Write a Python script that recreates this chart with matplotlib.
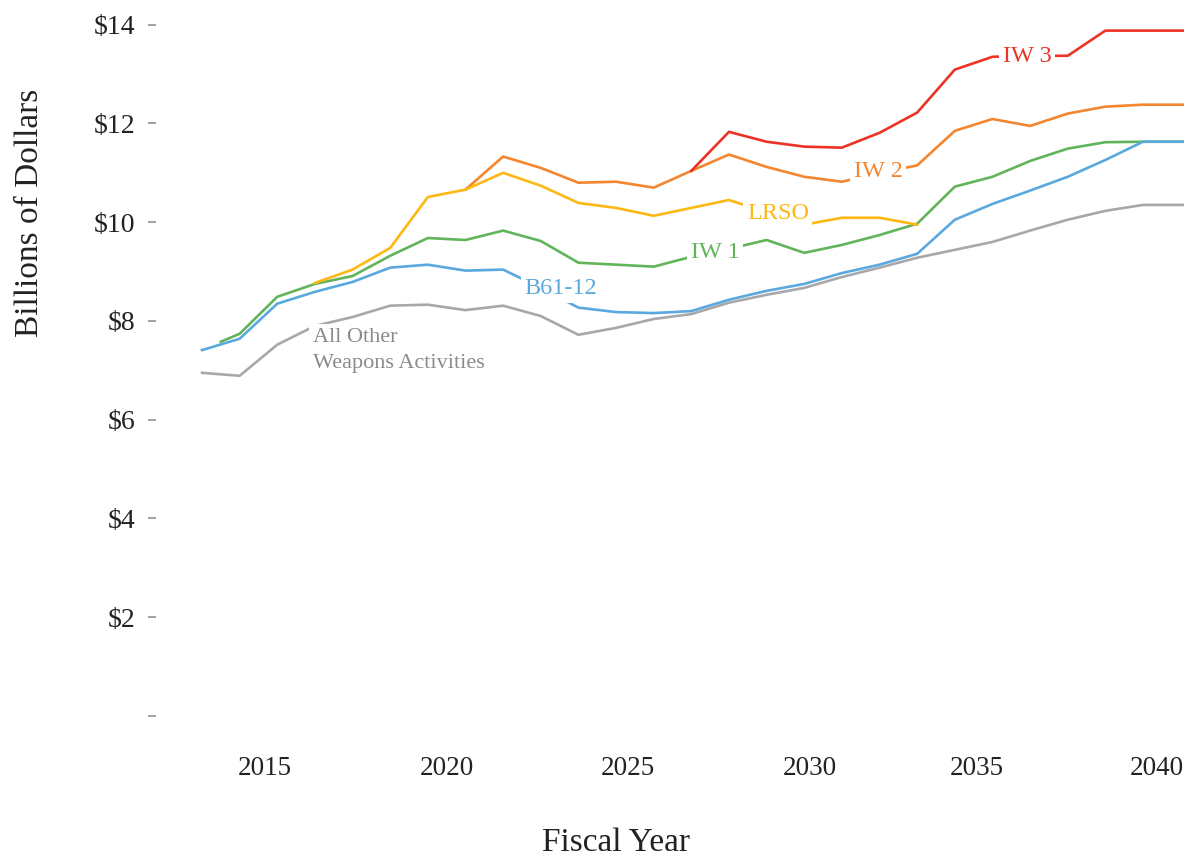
import matplotlib
matplotlib.use("Agg")
import matplotlib.pyplot as plt

plt.rcParams['font.family'] = ['Liberation Serif', 'DejaVu Serif']

# ---- data (billions of dollars, by fiscal year) ----
years_other = list(range(2014, 2042))
other = [6.95, 6.89, 7.52, 7.90, 8.08, 8.31, 8.33, 8.22, 8.31, 8.10, 7.72, 7.86, 8.04, 8.14,
         8.37, 8.53, 8.67, 8.89, 9.08, 9.28, 9.44, 9.60, 9.83, 10.05, 10.23, 10.35, 10.35, 10.35]

years_b61 = list(range(2014, 2042))
b61 = [7.41, 7.64, 8.35, 8.59, 8.79, 9.08, 9.14, 9.02, 9.04, 8.67, 8.27, 8.18, 8.16, 8.20,
       8.43, 8.61, 8.75, 8.97, 9.14, 9.36, 10.05, 10.37, 10.64, 10.92, 11.26, 11.63, 11.63, 11.63]

years_iw1 = [2014.5] + list(range(2015, 2042))
iw1 = [7.58, 7.74, 8.49, 8.75, 8.91, 9.32, 9.68, 9.64, 9.83, 9.62, 9.18, 9.14, 9.10, 9.30,
       9.46, 9.64, 9.38, 9.54, 9.74, 9.97, 10.72, 10.92, 11.24, 11.49, 11.62, 11.63, 11.63, 11.63]

years_lrso = list(range(2017, 2034))
lrso = [8.77, 9.04, 9.48, 10.51, 10.66, 11.00, 10.74, 10.39, 10.29, 10.13, 10.29, 10.45,
        10.20, 9.95, 10.09, 10.09, 9.95]

years_iw2 = list(range(2021, 2042))
iw2 = [10.66, 11.33, 11.10, 10.80, 10.82, 10.70, 11.04, 11.37, 11.12, 10.92, 10.82, 11.00,
       11.15, 11.85, 12.09, 11.95, 12.20, 12.34, 12.38, 12.38, 12.38]

years_iw3 = list(range(2027, 2042))
iw3 = [11.04, 11.83, 11.63, 11.53, 11.51, 11.81, 12.22, 13.09, 13.35, 13.37, 13.37, 13.88,
       13.88, 13.88, 13.88]

y_ticks = [0, 2, 4, 6, 8, 10, 12, 14]
y_tick_labels = ['', '$2', '$4', '$6', '$8', '$10', '$12', '$14']
x_tick_labels = ['2015', '2020', '2025', '2030', '2035', '2040']

# ---- styling ----
C_GRAY = '#a8a8aa'
C_GRAY_TXT = '#8a8a8c'
C_BLUE = '#5aa9de'
C_GREEN = '#62b45a'
C_YELLOW = '#fdb813'
C_ORANGE = '#f4862f'
C_RED = '#ec3326'

fig = plt.figure(figsize=(11.84, 8.61), dpi=100)
ax = fig.add_axes([156 / 1184, 1 - 740.7 / 861, 1028 / 1184, 740.7 / 861])

lw = 1.9
ax.plot(years_other, other, color=C_GRAY, lw=lw, zorder=2)
ax.plot(years_iw1, iw1, color=C_GREEN, lw=lw, zorder=3)
ax.plot(years_b61, b61, color=C_BLUE, lw=lw, zorder=4)
ax.plot(years_iw2, iw2, color=C_ORANGE, lw=lw, zorder=5)
ax.plot(years_lrso, lrso, color=C_YELLOW, lw=lw, zorder=6)
ax.plot(years_iw3, iw3, color=C_RED, lw=lw, zorder=7)

box = dict(facecolor='white', edgecolor='none', pad=2.5)
lab_fs = 17.5
ax.text(2035.92, 13.35, 'IW 3', color=C_RED, fontsize=lab_fs, ha='center', va='center',
        bbox=box, zorder=10)
ax.text(2031.96, 11.02, 'IW 2', color=C_ORANGE, fontsize=lab_fs, ha='center', va='center',
        bbox=box, zorder=10)
ax.text(2029.3, 10.17, 'LRSO', color=C_YELLOW, fontsize=lab_fs, ha='center', va='center',
        bbox=box, zorder=10)
ax.text(2027.63, 9.38, 'IW 1', color=C_GREEN, fontsize=lab_fs, ha='center', va='center',
        bbox=box, zorder=10)
ax.text(2023.54, 8.65, 'B61-12', color=C_BLUE, fontsize=lab_fs, ha='center', va='center',
        bbox=box, zorder=10)
ax.text(2016.95, 7.41, 'All Other\nWeapons Activities', color=C_GRAY_TXT, fontsize=16,
        ha='left', va='center', linespacing=1.5, bbox=box, zorder=10)

# axes limits: vertices one year apart, plot area clipped at right edge
ax.set_xlim(2014 - 46 / 37.64, 2014 + 982 / 37.64)
ax.set_ylim(-0.5, 14.5)

ax.set_yticks(y_ticks, y_tick_labels)
tick_px = [265, 447, 628, 810, 977, 1157]
ax.set_xticks([2014 + (p - 202) / 37.64 for p in tick_px], x_tick_labels)

ax.tick_params(axis='y', length=6, width=1.4, color='#a0a0a0', pad=9, labelsize=20,
               labelcolor='#222222')
ax.tick_params(axis='x', length=0, pad=11, labelsize=19.5, labelcolor='#222222')

for s in ax.spines.values():
    s.set_visible(False)

fig.text(616 / 1184, 1 - 843 / 861, 'Fiscal Year', fontsize=24, ha='center', va='center',
         color='#222222')
fig.text(30 / 1184, 1 - 213 / 861, 'Billions of Dollars', fontsize=24, ha='center',
         va='center', rotation=90, color='#222222')

fig.savefig('out.png', dpi=100)
